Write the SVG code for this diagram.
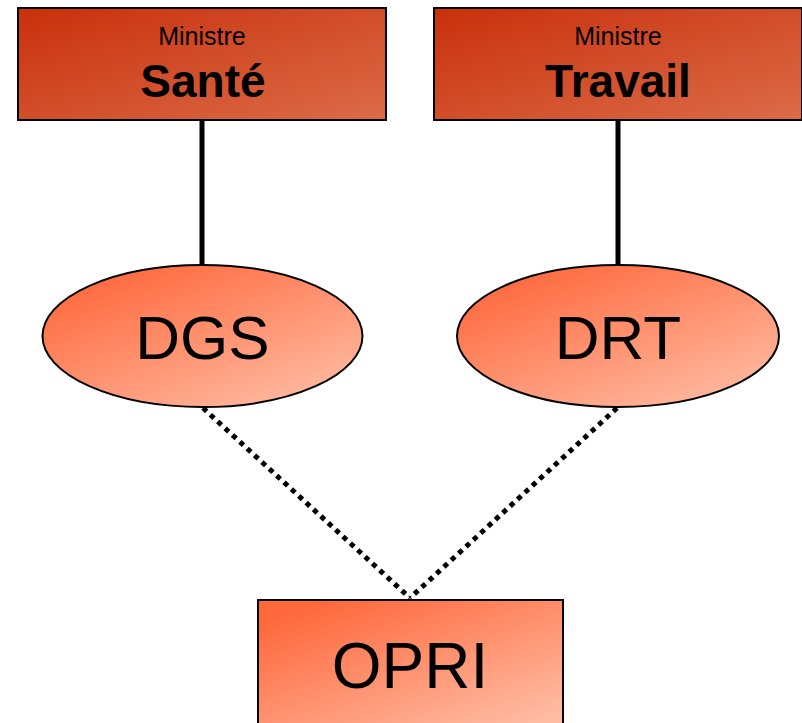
<svg xmlns="http://www.w3.org/2000/svg" width="802" height="723" viewBox="0 0 802 723">
<defs>
<linearGradient id="gMin" x1="0" y1="0" x2="1" y2="1">
<stop offset="0" stop-color="#C9300B"/>
<stop offset="1" stop-color="#DC6B48"/>
</linearGradient>
<linearGradient id="gSub" x1="0.1" y1="0.1" x2="0.85" y2="1">
<stop offset="0" stop-color="#FF683C"/>
<stop offset="1" stop-color="#FFBCA4"/>
</linearGradient>
<style>
.box{stroke:#000;stroke-width:2}
.t{font-family:"Liberation Sans",Arial,sans-serif;fill:#000;text-anchor:middle}
.solid{stroke:#000;stroke-width:5;fill:none}
.dot{stroke:#000;stroke-width:5;stroke-dasharray:5 5;fill:none}
</style>
</defs>
<g id="connectors">
<line class="solid" x1="202" y1="120" x2="202" y2="265"/>
<line class="solid" x1="618" y1="120" x2="618" y2="265"/>
<line class="dot" x1="203" y1="408" x2="410" y2="598"/>
<line class="dot" x1="617" y1="408" x2="410" y2="598"/>
</g>
<g id="sante">
<rect class="box" x="18" y="8" width="368" height="112" fill="url(#gMin)"/>
<text class="t" x="202" y="45" font-size="25">Ministre</text>
<text class="t" x="203" y="97" font-size="46" font-weight="bold">Santé</text>
</g>
<g id="travail">
<rect class="box" x="434" y="8" width="368" height="112" fill="url(#gMin)"/>
<text class="t" x="618" y="45" font-size="25">Ministre</text>
<text class="t" x="618" y="97" font-size="46" font-weight="bold">Travail</text>
</g>
<g id="dgs">
<ellipse class="box" cx="202.5" cy="336" rx="160" ry="71" fill="url(#gSub)"/>
<text class="t" x="202.5" y="359" font-size="62">DGS</text>
</g>
<g id="drt">
<ellipse class="box" cx="618" cy="336" rx="161" ry="71" fill="url(#gSub)"/>
<text class="t" x="618" y="359" font-size="62">DRT</text>
</g>
<g id="opri">
<rect class="box" x="258" y="600" width="305" height="130" fill="url(#gSub)"/>
<text class="t" x="410" y="688" font-size="64">OPRI</text>
</g>
</svg>
